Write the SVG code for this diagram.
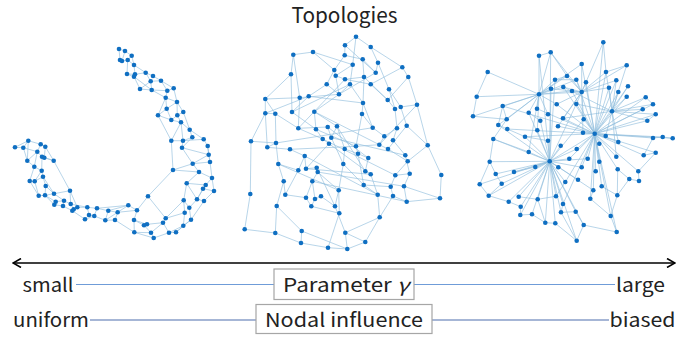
<svg xmlns="http://www.w3.org/2000/svg" width="700" height="339" viewBox="0 0 700 339">
<defs>
<style>
.t{font-family:"Noto Sans CJK JP","Noto Sans",sans-serif;fill:#222;}
.e{fill:none;stroke:#8fbddd;stroke-width:0.75;stroke-opacity:0.85;}
.n circle{fill:#0f6fc2;r:2.3px;}
.box{fill:#fff;stroke:#a6a6a6;stroke-width:1.2;}
</style>
<marker id="ah" viewBox="0 0 10 10" refX="9" refY="5" markerWidth="10" markerHeight="10" markerUnits="userSpaceOnUse" orient="auto-start-reverse">
<path d="M1 0.5L9 5L1 9.5" fill="none" stroke="#000" stroke-width="1.6"/>
</marker>
</defs>
<rect width="700" height="339" fill="#fff"/>
<text class="t" x="344.5" y="23" font-size="21" text-anchor="middle" textLength="106" lengthAdjust="spacingAndGlyphs">Topologies</text>
<g id="connectors">
<path id="edges1" class="e" d="M119 49L125 51M119 49L120 60M125 51L131.7 55.7M125 51L122 61M131.7 55.7L134 65M120 60L122 61M122 61L127.7 60M127.7 60L134 65M127.7 60L127 74M134 65L135 74.3M127 74L134 76.7M127 74L135 74.3M135 74.3L134 76.7M135 74.3L145.7 72.7M145.7 72.7L153 76M145.7 72.7L150.7 81.3M153 76L161 80.7M150.7 81.3L140 89M150.7 81.3L151.7 90M161 80.7L167.3 90.7M161 80.7L173.7 88.3M140 89L151.7 90M134 76.7L140 89M151.7 90L165.7 97.7M167.3 90.7L173.7 88.3M167.3 90.7L165.7 97.7M173.7 88.3L177 102M165.7 97.7L166.7 108.7M165.7 97.7L158 115.3M177 102L166.7 108.7M177 102L177.3 115.3M177 102L183.3 112M166.7 108.7L171.3 120M166.7 108.7L158 115.3M158 115.3L171.3 120M158 115.3L171.3 140.7M171.3 120L181 122.3M177.3 115.3L183.3 112M177.3 115.3L181 122.3M183.3 112L189.7 129.7M181 122.3L189.7 129.7M181 122.3L183 140.7M189.7 129.7L192.3 137.3M189.7 129.7L203.7 139.3M192.3 137.3L183 140.7M192.3 137.3L182 147.7M171.3 140.7L183 140.7M171.3 140.7L173 170M183 140.7L182 147.7M182 147.7L192.7 163.7M203.7 139.3L207.7 146M207.7 146L208.7 154.7M208.7 154.7L210 162M208.7 154.7L192.7 163.7M192.7 163.7L210 162M192.7 163.7L173 170M192.7 163.7L199 172M210 162L212 178M199 172L212 178M199 172L186.7 183.3M173 170L148 196.3M173 170L199 172M212 178L205.7 185M212 178L214 191M186.7 183.3L183.7 200.3M186.7 183.3L205.7 185M205.7 185L203 188.7M203 188.7L214 191M203 188.7L197 199.3M214 191L204 201M197 199.3L204 201M197 199.3L189.3 207.7M183.7 200.3L189.3 207.7M183.7 200.3L184.7 212.7M189.3 207.7L191 219.7M184.7 212.7L183.3 225.7M191 219.7L183.3 225.7M204 201L191 219.7M184.7 212.7L165.7 218.3M183.3 225.7L176 232.3M165.7 218.3L163 222.7M163 222.7L169 232.7M176 232.3L169 232.7M169 232.7L153.7 238M153.7 238L151 232.7M151 232.7L144 225.3M148 196.3L137 210.3M148 196.3L165.7 218.3M144 225.3L147 224.3M147 224.3L134 220M147 224.3L163 222.7M151 232.7L134.3 232.3M134 220L134.3 232.3M134 220L137 210.3M137 210.3L128.3 205.3M128.3 205.3L117.7 212.3M117.7 212.3L108.3 210.7M117.7 212.3L115 220M115 220L105.3 220.3M115 220L134.3 232.3M108.3 210.7L97 208.3M105.3 220.3L94.3 216M108.3 210.7L105.3 220.3M97 208.3L87.3 207.3M94.3 216L89 215M89 215L85 219.3M87.3 207.3L77.3 207.3M85 219.3L72.3 210.7M77.3 207.3L73.7 209.3M77.3 207.3L70 190.7M73.7 209.3L70.7 204M70.7 204L64 200.7M64 200.7L55.7 201.7M72.3 210.7L63 206M55.7 201.7L54.3 204.7M54.3 204.7L45 195.3M63 206L64 200.7M70 190.7L53.7 160.7M70 190.7L54 193.7M54 193.7L45.7 186M45 195.3L38.7 195.7M38.7 195.7L34.7 181.3M45.7 186L43 176.7M34.7 181.3L29.7 181M29.7 181L34.3 166.7M43 176.7L41.7 170.7M41.7 170.7L42 156.7M41.7 170.7L34.3 166.7M34.3 166.7L27.3 160.7M27.3 160.7L37.3 151.7M37.3 151.7L40.7 144.3M42 156.7L44.3 157.7M44.3 157.7L45.3 146.7M40.7 144.3L28.3 140.7M45.3 146.7L53.7 160.7M28.3 140.7L23.3 147.7M23.3 147.7L15 147.3M40.7 144.3L45.3 146.7M37.3 151.7L42 156.7M128.3 205.3L97 208.3M134.3 232.3L153.7 238M45.7 186L45 195.3M34.7 181.3L43 176.7M23.3 147.7L27.3 160.7M54 193.7L45 195.3M87.3 207.3L89 215M131.7 55.7L127.7 60M134 65L145.7 72.7M134 76.7L151.7 90M150.7 81.3L161 80.7M151.7 90L167.3 90.7M165.7 97.7L177 102M171.3 120L177.3 115.3M181 122.3L171.3 140.7M183 140.7L203.7 139.3M182 147.7L208.7 154.7M207.7 146L210 162M186.7 183.3L197 199.3M205.7 185L197 199.3M183.7 200.3L165.7 218.3M191 219.7L176 232.3M183.3 225.7L169 232.7M163 222.7L151 232.7M144 225.3L134 220M137 210.3L117.7 212.3M128.3 205.3L108.3 210.7M117.7 212.3L105.3 220.3M97 208.3L94.3 216M94.3 216L85 219.3M87.3 207.3L70.7 204M73.7 209.3L72.3 210.7M70.7 204L70 190.7M64 200.7L54 193.7M55.7 201.7L45 195.3M63 206L54.3 204.7M54 193.7L43 176.7M38.7 195.7L29.7 181M34.7 181.3L41.7 170.7M34.3 166.7L37.3 151.7M27.3 160.7L28.3 140.7M42 156.7L53.7 160.7M44.3 157.7L53.7 160.7M28.3 140.7L15 147.3M37.3 151.7L23.3 147.7"/>
<path id="edges2" class="e" d="M356 36.7L345 45.3M356 36.7L370.7 47M356 36.7L352.7 64.7M345 45.3L344.7 55.3M345 45.3L375.7 72.7M370.7 47L378 62.7M370.7 47L402.3 67.3M293.3 54.7L313 52M293.3 54.7L299.7 97.7M313 52L352.7 64.7M313 52L334.3 70M344.7 55.3L334.3 70M344.7 55.3L362.7 59.3M362.7 59.3L364 77M362.7 59.3L375.7 72.7M352.7 64.7L350 84.3M378 62.7L375.7 72.7M378 62.7L389 89.3M402.3 67.3L408.3 77M402.3 67.3L370.7 84.3M334.3 70L335.7 75.7M291 74.3L265.3 99M291 74.3L292 112M335.7 75.7L345 79.3M335.7 75.7L339 94.3M345 79.3L364 77M345 79.3L370.7 84.3M364 77L363 103M408.3 77L417 104.7M408.3 77L387.7 100M326.7 84.3L339 94.3M326.7 84.3L308.7 96.3M326.7 84.3L334.3 70M350 84.3L363 103M350 84.3L339 94.3M370.7 84.3L387.7 100M389 89.3L400.7 107M389 89.3L395 109M339 94.3L299.7 97.7M339 94.3L314.3 111.7M299.7 97.7L265.3 99M299.7 97.7L298.3 128.3M308.7 96.3L292 112M308.7 96.3L265.3 113.3M265.3 99L265.3 113.3M265.3 99L275.3 113.7M363 103L362 114M363 103L372.7 127.7M387.7 100L395 109M417 104.7L400.7 107M417 104.7L427.7 145.3M400.7 107L406.7 125.7M395 109L397 128.3M265.3 113.3L251 141.3M265.3 113.3L267.3 147.3M275.3 113.7L276 143M275.3 113.7L298.3 128.3M292 112L316 129.3M314.3 111.7L316 129.3M314.3 111.7L337 126.3M362 114L372.7 127.7M362 114L356 146.3M298.3 128.3L322.7 139M298.3 128.3L327.7 127M316 129.3L322.7 139M327.7 127L331.3 137.7M337 126.3L331.3 137.7M337 126.3L344.7 149M372.7 127.7L384.3 136.3M397 128.3L384.3 136.3M397 128.3L393 140.3M406.7 125.7L427.7 145.3M406.7 125.7L388 149M322.7 139L329 143.7M331.3 137.7L343.3 164M329 143.7L306 168.7M251 141.3L250.3 194M251 141.3L276 143M276 143L267.3 147.3M276 143L278.3 164M267.3 147.3L290 149.3M290 149.3L304.7 156M344.7 149L358 153.7M344.7 149L343.3 164M356 146.3L379.3 144.7M356 146.3L358 153.7M384.3 136.3L379.3 144.7M379.3 144.7L388 149M393 140.3L405.3 155.3M388 149L407.7 161.3M427.7 145.3L407.7 161.3M427.7 145.3L441.3 175M304.7 156L298.3 170.3M304.7 156L306 168.7M358 153.7L368.3 158M368.3 158L365.3 171.3M405.3 155.3L409.7 173.7M407.7 161.3L395.3 175.3M278.3 164L283.7 181.3M278.3 164L298.3 170.3M298.3 170.3L285.3 194.7M306 168.7L316.7 167.7M316.7 167.7L317.7 172M317.7 172L312.3 181.3M317.7 172L338.7 190.3M343.3 164L363.7 185M365.3 171.3L370.7 174.3M370.7 174.3L377.7 194.7M395.3 175.3L390.7 186.7M395.3 175.3L409.7 173.7M409.7 173.7L404 186.3M441.3 175L440 198.3M283.7 181.3L285.3 194.7M283.7 181.3L276.7 206M312.3 181.3L306 197.7M312.3 181.3L315 199M363.7 185L390.7 186.7M363.7 185L377.7 194.7M377.7 194.7L379.7 217.3M390.7 186.7L393 196M404 186.3L406.7 201.7M285.3 194.7L306 197.7M250.3 194L244.7 229.3M306 197.7L311.3 206.3M315 199L321 196.3M321 196.3L335 206.3M338.7 190.3L335 206.3M338.7 190.3L339.3 213.3M393 196L406.7 201.7M393 196L379.7 217.3M406.7 201.7L440 198.3M440 198.3L404 186.3M276.7 206L275.3 233M276.7 206L301.7 231M311.3 206.3L339.3 213.3M335 206.3L345.3 232.7M339.3 213.3L328 247.7M379.7 217.3L365.3 242M379.7 217.3L345.3 232.7M244.7 229.3L275.3 233M275.3 233L301 243M301.7 231L301 243M301.7 231L347.3 249M345.3 232.7L347.3 249M301 243L328 247.7M328 247.7L347.3 249M347.3 249L365.3 242M316 129.3L356 146.3M327.7 127L368.3 158M337 126.3L365.3 171.3M322.7 139L395.3 175.3M331.3 137.7L405.3 155.3M329 143.7L370.7 174.3M314.3 111.7L379.3 144.7M308.7 96.3L363 103M292 112L350 84.3M298.3 128.3L345 79.3M375.7 72.7L339 94.3M306 168.7L370.7 174.3M317.7 172L404 186.3M304.7 156L377.7 194.7M312.3 181.3L406.7 201.7M290 149.3L356 146.3M278.3 164L338.7 190.3M276 143L372.7 127.7M417 104.7L379.3 144.7M364 77L387.7 100M352.7 64.7L335.7 75.7M291 74.3L293.3 54.7M316.7 167.7L335 206.3M358 153.7L363.7 185M343.3 164L338.7 190.3M315 199L311.3 206.3M365.3 242L345.3 232.7M265.3 113.3L275.3 113.7"/>
<path id="edges3" class="e" d="M549.7 161.3L555 79.7M549.7 161.3L551 88.7M549.7 161.3L528.7 112.7M549.7 161.3L540.3 120.7M549.7 161.3L537.3 130.3M549.7 161.3L493.3 139M549.7 161.3L525 136.7M549.7 161.3L548 140.7M549.7 161.3L560.7 145.7M549.7 161.3L576.7 149M549.7 161.3L528.7 152M549.7 161.3L489.7 161.7M549.7 161.3L569.3 158.7M549.7 161.3L587.7 158.7M549.7 161.3L514 172M549.7 161.3L535.3 167M549.7 161.3L558.3 167.3M549.7 161.3L581.7 167.3M549.7 161.3L495.7 174M549.7 161.3L501.7 183.7M549.7 161.3L479.7 184.3M549.7 161.3L565.3 182M549.7 161.3L578 179.7M549.7 161.3L593.3 190.3M549.7 161.3L488.7 195.7M549.7 161.3L508.7 201.7M549.7 161.3L518.7 196.7M549.7 161.3L537.7 199.3M549.7 161.3L556 196.3M549.7 161.3L520.7 206.7M549.7 161.3L563 204M549.7 161.3L520.3 215M549.7 161.3L532 214.3M549.7 161.3L561 212.3M549.7 161.3L575.7 211.7M549.7 161.3L545.3 222.7M549.7 161.3L555.3 223.3M549.7 161.3L583.7 225M549.7 161.3L594.7 133.7M549.7 161.3L583.7 119.3M549.7 161.3L576.3 104M549.7 161.3L498.3 125M549.7 161.3L539 55.7M549.7 161.3L550.7 52.3M549.7 161.3L576.7 240.7M594.7 133.7L603.3 42.3M594.7 133.7L581.7 64M594.7 133.7L606 72M594.7 133.7L576.3 79.7M594.7 133.7L586 82.3M594.7 133.7L616.3 80.3M594.7 133.7L563.3 87M594.7 133.7L572 91M594.7 133.7L609 87.7M594.7 133.7L618.3 92M594.7 133.7L628 86.3M594.7 133.7L537 108.7M594.7 133.7L556.7 104.3M594.7 133.7L576.3 104M594.7 133.7L626.7 96.7M594.7 133.7L645.7 97.3M594.7 133.7L653 104.3M594.7 133.7L642.7 109.3M594.7 133.7L563 118.3M594.7 133.7L583.7 119.3M594.7 133.7L655.7 114.3M594.7 133.7L647.3 120.7M594.7 133.7L558 126.3M594.7 133.7L583 132.7M594.7 133.7L605.7 136M594.7 133.7L618.3 142M594.7 133.7L653 138M594.7 133.7L662.7 137M594.7 133.7L672.7 138.3M594.7 133.7L576.7 149M594.7 133.7L599.3 143.7M594.7 133.7L655.7 152.7M594.7 133.7L643.7 155.3M594.7 133.7L616.3 156.7M594.7 133.7L569.3 158.7M594.7 133.7L587.7 158.7M594.7 133.7L599.3 161.7M594.7 133.7L581.7 167.3M594.7 133.7L595.7 171.3M594.7 133.7L617.7 169.3M594.7 133.7L638.3 171.3M594.7 133.7L565.3 182M594.7 133.7L601.7 186.3M594.7 133.7L593.3 190.3M594.7 133.7L590.3 198.7M594.7 133.7L610.7 216M594.7 133.7L616.7 232M594.7 133.7L563 204M594.7 133.7L507.3 129M594.7 133.7L502.7 106M594.7 133.7L525 136.7M539 94.3L539 55.7M539 94.3L550.7 52.3M539 94.3L487.7 72M539 94.3L567 76M539 94.3L555 79.7M539 94.3L551 88.7M539 94.3L563.3 87M539 94.3L476.7 96.7M539 94.3L502.7 106M539 94.3L528.7 112.7M539 94.3L548 114.3M539 94.3L473 116.3M539 94.3L506.7 119.3M539 94.3L498.3 125M539 94.3L572 91M539 94.3L581.7 92M539 94.3L581.7 64M539 94.3L537 108.7M539 94.3L537.3 130.3M539 94.3L528.7 152M539 94.3L556.7 104.3M539 94.3L576.3 79.7M581.7 92L603.3 42.3M581.7 92L581.7 64M581.7 92L626.7 65.3M581.7 92L606 72M581.7 92L567 76M581.7 92L576.3 79.7M581.7 92L586 82.3M581.7 92L616.3 80.3M581.7 92L551 88.7M581.7 92L563.3 87M581.7 92L572 91M581.7 92L609 87.7M581.7 92L576.3 104M581.7 92L583.7 119.3M581.7 92L583 132.7M581.7 92L556.7 104.3M581.7 92L558 126.3M581.7 92L563 118.3M581.7 92L550.7 52.3M612 111.3L626.7 65.3M612 111.3L606 72M612 111.3L616.3 80.3M612 111.3L609 87.7M612 111.3L618.3 92M612 111.3L628 86.3M612 111.3L626.7 96.7M612 111.3L645.7 97.3M612 111.3L653 104.3M612 111.3L642.7 109.3M612 111.3L655.7 114.3M612 111.3L647.3 120.7M612 111.3L618.3 142M612 111.3L563.3 87M612 111.3L616.3 156.7M612 111.3L605.7 136M612 111.3L576.3 104M612 111.3L563 118.3M612 111.3L594.7 133.7M487.7 72L476.7 96.7M476.7 96.7L473 116.3M473 116.3L506.7 119.3M506.7 119.3L493.3 139M498.3 125L507.3 129M493.3 139L489.7 161.7M489.7 161.7L479.7 184.3M479.7 184.3L488.7 195.7M488.7 195.7L508.7 201.7M508.7 201.7L520.7 206.7M520.7 206.7L520.3 215M520.3 215L532 214.3M532 214.3L545.3 222.7M545.3 222.7L555.3 223.3M555.3 223.3L576.7 240.7M583.7 225L616.7 232M616.7 232L610.7 216M610.7 216L617.3 195.3M617.3 195.3L629.3 179M629.3 179L639 181M639 181L638.3 171.3M638.3 171.3L655.7 152.7M655.7 152.7L643.7 155.3M643.7 155.3L653 138M653 138L662.7 137M662.7 137L672.7 138.3M655.7 114.3L647.3 120.7M645.7 97.3L653 104.3M626.7 65.3L606 72M603.3 42.3L606 72M539 55.7L550.7 52.3M567 76L555 79.7M555 79.7L576.3 79.7M550.7 52.3L567 76M495.7 174L501.7 183.7M514 172L535.3 167M518.7 196.7L537.7 199.3M537.7 199.3L556 196.3M563 204L561 212.3M561 212.3L575.7 211.7M575.7 211.7L583.7 225M590.3 198.7L593.3 190.3M601.7 186.3L617.3 195.3M528.7 152L493.3 139M525 136.7L548 140.7M502.7 106L498.3 125M576.7 240.7L583.7 225M576.7 240.7L561 212.3M489.7 161.7L495.7 174M501.7 183.7L488.7 195.7M617.3 195.3L617.7 169.3M629.3 179L617.7 169.3M610.7 216L590.3 198.7M556 196.3L565.3 182M545.3 222.7L537.7 199.3M507.3 129L525 136.7M528.7 112.7L540.3 120.7M506.7 119.3L502.7 106"/>
</g>
<g id="graph1" class="n">
<circle cx="119" cy="49"/><circle cx="125" cy="51"/><circle cx="131.7" cy="55.7"/><circle cx="120" cy="60"/><circle cx="122" cy="61"/><circle cx="127.7" cy="60"/><circle cx="134" cy="65"/><circle cx="127" cy="74"/><circle cx="135" cy="74.3"/><circle cx="134" cy="76.7"/>
<circle cx="145.7" cy="72.7"/><circle cx="153" cy="76"/><circle cx="150.7" cy="81.3"/><circle cx="161" cy="80.7"/><circle cx="140" cy="89"/><circle cx="151.7" cy="90"/><circle cx="167.3" cy="90.7"/><circle cx="173.7" cy="88.3"/><circle cx="165.7" cy="97.7"/><circle cx="177" cy="102"/>
<circle cx="166.7" cy="108.7"/><circle cx="158" cy="115.3"/><circle cx="171.3" cy="120"/><circle cx="177.3" cy="115.3"/><circle cx="183.3" cy="112"/><circle cx="181" cy="122.3"/><circle cx="189.7" cy="129.7"/><circle cx="192.3" cy="137.3"/><circle cx="171.3" cy="140.7"/><circle cx="183" cy="140.7"/>
<circle cx="182" cy="147.7"/><circle cx="203.7" cy="139.3"/><circle cx="207.7" cy="146"/><circle cx="208.7" cy="154.7"/><circle cx="192.7" cy="163.7"/><circle cx="210" cy="162"/><circle cx="199" cy="172"/><circle cx="173" cy="170"/><circle cx="212" cy="178"/><circle cx="186.7" cy="183.3"/>
<circle cx="205.7" cy="185"/><circle cx="203" cy="188.7"/><circle cx="214" cy="191"/><circle cx="197" cy="199.3"/><circle cx="204" cy="201"/><circle cx="183.7" cy="200.3"/><circle cx="189.3" cy="207.7"/><circle cx="184.7" cy="212.7"/><circle cx="191" cy="219.7"/><circle cx="183.3" cy="225.7"/>
<circle cx="165.7" cy="218.3"/><circle cx="163" cy="222.7"/><circle cx="176" cy="232.3"/><circle cx="169" cy="232.7"/><circle cx="153.7" cy="238"/><circle cx="151" cy="232.7"/><circle cx="148" cy="196.3"/><circle cx="144" cy="225.3"/><circle cx="147" cy="224.3"/><circle cx="134" cy="220"/>
<circle cx="134.3" cy="232.3"/><circle cx="137" cy="210.3"/><circle cx="128.3" cy="205.3"/><circle cx="117.7" cy="212.3"/><circle cx="115" cy="220"/><circle cx="108.3" cy="210.7"/><circle cx="105.3" cy="220.3"/><circle cx="97" cy="208.3"/><circle cx="94.3" cy="216"/><circle cx="89" cy="215"/>
<circle cx="87.3" cy="207.3"/><circle cx="85" cy="219.3"/><circle cx="77.3" cy="207.3"/><circle cx="73.7" cy="209.3"/><circle cx="70.7" cy="204"/><circle cx="64" cy="200.7"/><circle cx="72.3" cy="210.7"/><circle cx="55.7" cy="201.7"/><circle cx="54.3" cy="204.7"/><circle cx="63" cy="206"/>
<circle cx="70" cy="190.7"/><circle cx="54" cy="193.7"/><circle cx="45" cy="195.3"/><circle cx="38.7" cy="195.7"/><circle cx="45.7" cy="186"/><circle cx="34.7" cy="181.3"/><circle cx="29.7" cy="181"/><circle cx="43" cy="176.7"/><circle cx="41.7" cy="170.7"/><circle cx="34.3" cy="166.7"/>
<circle cx="27.3" cy="160.7"/><circle cx="37.3" cy="151.7"/><circle cx="42" cy="156.7"/><circle cx="44.3" cy="157.7"/><circle cx="40.7" cy="144.3"/><circle cx="45.3" cy="146.7"/><circle cx="53.7" cy="160.7"/><circle cx="28.3" cy="140.7"/><circle cx="23.3" cy="147.7"/><circle cx="15" cy="147.3"/>
</g>
<g id="graph2" class="n">
<circle cx="356" cy="36.7"/><circle cx="345" cy="45.3"/><circle cx="370.7" cy="47"/><circle cx="293.3" cy="54.7"/><circle cx="313" cy="52"/><circle cx="344.7" cy="55.3"/><circle cx="362.7" cy="59.3"/><circle cx="352.7" cy="64.7"/><circle cx="378" cy="62.7"/><circle cx="402.3" cy="67.3"/>
<circle cx="334.3" cy="70"/><circle cx="375.7" cy="72.7"/><circle cx="291" cy="74.3"/><circle cx="335.7" cy="75.7"/><circle cx="345" cy="79.3"/><circle cx="364" cy="77"/><circle cx="408.3" cy="77"/><circle cx="326.7" cy="84.3"/><circle cx="350" cy="84.3"/><circle cx="370.7" cy="84.3"/>
<circle cx="389" cy="89.3"/><circle cx="339" cy="94.3"/><circle cx="299.7" cy="97.7"/><circle cx="308.7" cy="96.3"/><circle cx="265.3" cy="99"/><circle cx="363" cy="103"/><circle cx="387.7" cy="100"/><circle cx="417" cy="104.7"/><circle cx="400.7" cy="107"/><circle cx="395" cy="109"/>
<circle cx="265.3" cy="113.3"/><circle cx="275.3" cy="113.7"/><circle cx="292" cy="112"/><circle cx="314.3" cy="111.7"/><circle cx="362" cy="114"/><circle cx="298.3" cy="128.3"/><circle cx="316" cy="129.3"/><circle cx="327.7" cy="127"/><circle cx="337" cy="126.3"/><circle cx="372.7" cy="127.7"/>
<circle cx="397" cy="128.3"/><circle cx="406.7" cy="125.7"/><circle cx="322.7" cy="139"/><circle cx="331.3" cy="137.7"/><circle cx="329" cy="143.7"/><circle cx="251" cy="141.3"/><circle cx="276" cy="143"/><circle cx="267.3" cy="147.3"/><circle cx="290" cy="149.3"/><circle cx="344.7" cy="149"/>
<circle cx="356" cy="146.3"/><circle cx="384.3" cy="136.3"/><circle cx="379.3" cy="144.7"/><circle cx="393" cy="140.3"/><circle cx="388" cy="149"/><circle cx="427.7" cy="145.3"/><circle cx="304.7" cy="156"/><circle cx="358" cy="153.7"/><circle cx="368.3" cy="158"/><circle cx="405.3" cy="155.3"/>
<circle cx="407.7" cy="161.3"/><circle cx="278.3" cy="164"/><circle cx="298.3" cy="170.3"/><circle cx="306" cy="168.7"/><circle cx="316.7" cy="167.7"/><circle cx="317.7" cy="172"/><circle cx="343.3" cy="164"/><circle cx="365.3" cy="171.3"/><circle cx="370.7" cy="174.3"/><circle cx="395.3" cy="175.3"/>
<circle cx="409.7" cy="173.7"/><circle cx="441.3" cy="175"/><circle cx="283.7" cy="181.3"/><circle cx="312.3" cy="181.3"/><circle cx="363.7" cy="185"/><circle cx="377.7" cy="194.7"/><circle cx="390.7" cy="186.7"/><circle cx="404" cy="186.3"/><circle cx="285.3" cy="194.7"/><circle cx="250.3" cy="194"/>
<circle cx="306" cy="197.7"/><circle cx="315" cy="199"/><circle cx="321" cy="196.3"/><circle cx="338.7" cy="190.3"/><circle cx="393" cy="196"/><circle cx="406.7" cy="201.7"/><circle cx="440" cy="198.3"/><circle cx="276.7" cy="206"/><circle cx="311.3" cy="206.3"/><circle cx="335" cy="206.3"/>
<circle cx="339.3" cy="213.3"/><circle cx="379.7" cy="217.3"/><circle cx="244.7" cy="229.3"/><circle cx="275.3" cy="233"/><circle cx="301.7" cy="231"/><circle cx="345.3" cy="232.7"/><circle cx="301" cy="243"/><circle cx="328" cy="247.7"/><circle cx="347.3" cy="249"/><circle cx="365.3" cy="242"/>
</g>
<g id="graph3" class="n">
<circle cx="603.3" cy="42.3"/><circle cx="539" cy="55.7"/><circle cx="550.7" cy="52.3"/><circle cx="581.7" cy="64"/><circle cx="626.7" cy="65.3"/><circle cx="487.7" cy="72"/><circle cx="606" cy="72"/><circle cx="567" cy="76"/><circle cx="555" cy="79.7"/><circle cx="576.3" cy="79.7"/>
<circle cx="586" cy="82.3"/><circle cx="616.3" cy="80.3"/><circle cx="551" cy="88.7"/><circle cx="563.3" cy="87"/><circle cx="572" cy="91"/><circle cx="581.7" cy="92"/><circle cx="609" cy="87.7"/><circle cx="618.3" cy="92"/><circle cx="628" cy="86.3"/><circle cx="539" cy="94.3"/>
<circle cx="476.7" cy="96.7"/><circle cx="502.7" cy="106"/><circle cx="537" cy="108.7"/><circle cx="528.7" cy="112.7"/><circle cx="556.7" cy="104.3"/><circle cx="576.3" cy="104"/><circle cx="626.7" cy="96.7"/><circle cx="645.7" cy="97.3"/><circle cx="653" cy="104.3"/><circle cx="642.7" cy="109.3"/>
<circle cx="612" cy="111.3"/><circle cx="548" cy="114.3"/><circle cx="540.3" cy="120.7"/><circle cx="563" cy="118.3"/><circle cx="583.7" cy="119.3"/><circle cx="473" cy="116.3"/><circle cx="506.7" cy="119.3"/><circle cx="498.3" cy="125"/><circle cx="507.3" cy="129"/><circle cx="655.7" cy="114.3"/>
<circle cx="647.3" cy="120.7"/><circle cx="537.3" cy="130.3"/><circle cx="558" cy="126.3"/><circle cx="594.7" cy="133.7"/><circle cx="583" cy="132.7"/><circle cx="605.7" cy="136"/><circle cx="618.3" cy="142"/><circle cx="653" cy="138"/><circle cx="662.7" cy="137"/><circle cx="672.7" cy="138.3"/>
<circle cx="493.3" cy="139"/><circle cx="525" cy="136.7"/><circle cx="548" cy="140.7"/><circle cx="560.7" cy="145.7"/><circle cx="576.7" cy="149"/><circle cx="599.3" cy="143.7"/><circle cx="528.7" cy="152"/><circle cx="655.7" cy="152.7"/><circle cx="643.7" cy="155.3"/><circle cx="616.3" cy="156.7"/>
<circle cx="489.7" cy="161.7"/><circle cx="549.7" cy="161.3"/><circle cx="569.3" cy="158.7"/><circle cx="587.7" cy="158.7"/><circle cx="599.3" cy="161.7"/><circle cx="514" cy="172"/><circle cx="535.3" cy="167"/><circle cx="558.3" cy="167.3"/><circle cx="581.7" cy="167.3"/><circle cx="595.7" cy="171.3"/>
<circle cx="617.7" cy="169.3"/><circle cx="638.3" cy="171.3"/><circle cx="495.7" cy="174"/><circle cx="501.7" cy="183.7"/><circle cx="479.7" cy="184.3"/><circle cx="565.3" cy="182"/><circle cx="578" cy="179.7"/><circle cx="629.3" cy="179"/><circle cx="639" cy="181"/><circle cx="601.7" cy="186.3"/>
<circle cx="593.3" cy="190.3"/><circle cx="617.3" cy="195.3"/><circle cx="488.7" cy="195.7"/><circle cx="508.7" cy="201.7"/><circle cx="518.7" cy="196.7"/><circle cx="537.7" cy="199.3"/><circle cx="556" cy="196.3"/><circle cx="590.3" cy="198.7"/><circle cx="520.7" cy="206.7"/><circle cx="563" cy="204"/>
<circle cx="520.3" cy="215"/><circle cx="532" cy="214.3"/><circle cx="561" cy="212.3"/><circle cx="575.7" cy="211.7"/><circle cx="610.7" cy="216"/><circle cx="545.3" cy="222.7"/><circle cx="555.3" cy="223.3"/><circle cx="583.7" cy="225"/><circle cx="616.7" cy="232"/><circle cx="576.7" cy="240.7"/>
</g>
<g id="axis">
<line x1="13" y1="263" x2="675" y2="263" stroke="#000" stroke-width="1.6" marker-start="url(#ah)" marker-end="url(#ah)"/>
</g>
<g id="param-row">
<line x1="76" y1="284.5" x2="274" y2="284.5" stroke="#6f9cd8" stroke-width="1.2"/>
<line x1="414" y1="284.5" x2="615" y2="284.5" stroke="#6f9cd8" stroke-width="1.2"/>
<text class="t" x="22.5" y="292" font-size="19" textLength="51" lengthAdjust="spacingAndGlyphs">small</text>
<text class="t" x="616" y="292" font-size="19" textLength="49" lengthAdjust="spacingAndGlyphs">large</text>
</g>
<g id="param-box">
<rect class="box" x="274" y="269" width="140" height="30.5"/>
<text class="t" x="283" y="292" font-size="19" textLength="126" lengthAdjust="spacingAndGlyphs">Parameter <tspan font-style="italic">γ</tspan></text>
</g>
<g id="influence-row">
<line x1="90" y1="320" x2="256" y2="320" stroke="#4e6fae" stroke-width="1.2"/>
<line x1="432" y1="320" x2="609" y2="320" stroke="#4e6fae" stroke-width="1.2"/>
<text class="t" x="13" y="327" font-size="19" textLength="76" lengthAdjust="spacingAndGlyphs">uniform</text>
<text class="t" x="609.5" y="327" font-size="19" textLength="66" lengthAdjust="spacingAndGlyphs">biased</text>
</g>
<g id="influence-box">
<rect class="box" x="256" y="304.5" width="176" height="29"/>
<text class="t" x="265" y="327" font-size="19" textLength="158" lengthAdjust="spacingAndGlyphs">Nodal influence</text>
</g>
</svg>
